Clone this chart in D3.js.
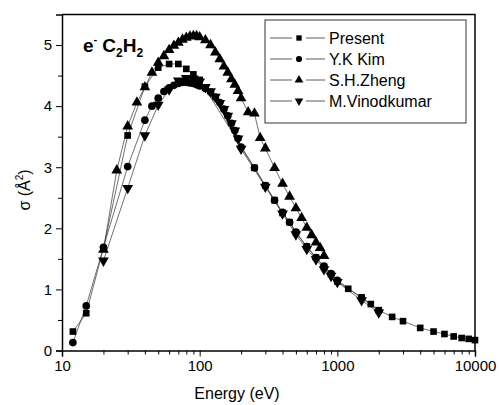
<!DOCTYPE html>
<html>
<head>
<meta charset="utf-8">
<title>e- C2H2 cross section</title>
<script src="https://cdn.jsdelivr.net/npm/d3@7"></script>
<style>
  body { margin: 0; background: #fff; }
  svg { font-family: "Liberation Sans", Arial, sans-serif; }
</style>
</head>
<body>
<div id="chart"></div>
<script>
// energies (eV) and cross sections (A^2)
const presentE = [12, 15, 20, 30, 40, 50, 60, 70, 80, 90, 100, 250, 300, 350, 400, 450, 500, 600, 700, 800, 900, 1000, 1200, 1500, 1750, 2000, 2500, 3000, 4000, 5000, 6000, 7000, 8000, 9000, 10000];
const presentS = [0.31, 0.61, 1.67, 3.52, 4.32, 4.63, 4.69, 4.69, 4.61, 4.52, 4.43, 2.99, 2.70, 2.46, 2.25, 2.10, 1.93, 1.70, 1.52, 1.37, 1.25, 1.13, 1.01, 0.87, 0.76, 0.66, 0.55, 0.48, 0.37, 0.31, 0.27, 0.23, 0.205, 0.19, 0.17];

const kimE = [12, 15, 20, 30, 40, 45, 50, 55, 60, 65, 70, 75, 80, 85, 90, 95, 100, 110, 120, 130, 140, 150, 160, 170, 180, 190, 200, 250, 300, 350, 400, 450, 500, 600, 700, 800, 900, 1000, 1500, 2000];
const kimS = [0.13, 0.73, 1.69, 3.01, 3.77, 4.00, 4.13, 4.24, 4.30, 4.34, 4.37, 4.39, 4.39, 4.38, 4.37, 4.35, 4.33, 4.29, 4.23, 4.15, 4.06, 3.95, 3.84, 3.72, 3.60, 3.47, 3.33, 2.99, 2.70, 2.46, 2.26, 2.10, 1.94, 1.70, 1.52, 1.38, 1.26, 1.15, 0.86, 0.65];

const zhengE = [20, 25, 30, 35, 40, 45, 50, 55, 60, 65, 70, 75, 80, 85, 90, 95, 100, 110, 120, 130, 140, 150, 160, 170, 180, 190, 200, 225, 250, 275, 300, 350, 400, 450, 500, 550, 600, 650, 700, 750, 800];
const zhengS = [1.65, 2.95, 3.67, 4.06, 4.31, 4.55, 4.71, 4.82, 4.92, 4.99, 5.04, 5.09, 5.12, 5.14, 5.15, 5.15, 5.13, 5.08, 5.00, 4.88, 4.77, 4.65, 4.55, 4.44, 4.35, 4.25, 4.13, 3.90, 3.88, 3.48, 3.31, 2.99, 2.73, 2.52, 2.33, 2.17, 2.01, 1.89, 1.77, 1.68, 1.55];

const vinodE = [20, 30, 40, 50, 60, 70, 80, 90, 100, 110, 120, 130, 140, 150, 160, 170, 180, 190, 200, 300, 400, 500, 600, 700, 800, 900, 1000, 1500, 2000];
const vinodS = [1.47, 2.66, 3.52, 4.02, 4.27, 4.42, 4.46, 4.45, 4.40, 4.31, 4.24, 4.15, 4.05, 3.95, 3.84, 3.72, 3.60, 3.47, 3.30, 2.68, 2.24, 1.90, 1.66, 1.49, 1.33, 1.22, 1.12, 0.82, 0.62];

const seriesNames = ["Present", "Y.K Kim", "S.H.Zheng", "M.Vinodkumar"];
const xTicks = [10, 100, 1000, 10000];
const yTicks = [0, 1, 2, 3, 4, 5];

const W = 499, H = 405;
const svg = d3.select("#chart").append("svg").attr("width", W).attr("height", H);

const x = d3.scaleLog().domain([10, 10000]).range([62, 475]);
const y = d3.scaleLinear().domain([0, 5.5]).range([350.5, 14.5]);

const series = [
  { name: seriesNames[0], E: presentE, S: presentS, sym: d3.symbolSquare, size: 44, rot: 0 },
  { name: seriesNames[1], E: kimE, S: kimS, sym: d3.symbolCircle, size: 46, rot: 0 },
  { name: seriesNames[2], E: zhengE, S: zhengS, sym: d3.symbolTriangle, size: 50, rot: 0 },
  { name: seriesNames[3], E: vinodE, S: vinodS, sym: d3.symbolTriangle, size: 50, rot: 180 }
];

// lines
const line = d3.line().x(d => x(d[0])).y(d => y(d[1]));
series.forEach(s => {
  const pts = s.E.map((e, i) => [e, s.S[i]]);
  svg.append("path")
    .datum(pts)
    .attr("fill", "none")
    .attr("stroke", "#333")
    .attr("stroke-width", 0.7)
    .attr("d", line);
});

// markers
series.forEach(s => {
  const pts = s.E.map((e, i) => [e, s.S[i]]);
  svg.append("g").selectAll("path")
    .data(pts)
    .join("path")
    .attr("transform", d => `translate(${x(d[0])},${y(d[1])}) rotate(${s.rot})`)
    .attr("d", d3.symbol().type(s.sym).size(s.size))
    .attr("fill", "#000");
});

// axes
const minorX = [];
[10, 100, 1000].forEach(dec => { for (let k = 2; k <= 9; k++) minorX.push(dec * k); });
const minorY = d3.range(0.5, 5.5, 1);

svg.append("g")
  .attr("transform", "translate(0,350.5)")
  .call(d3.axisBottom(x).tickValues(minorX).tickSize(4).tickFormat(""))
  .call(g => g.select(".domain").remove());
svg.append("g")
  .attr("transform", "translate(0,350.5)")
  .call(d3.axisBottom(x).tickValues(xTicks).tickSize(6).tickPadding(4).tickFormat(d3.format("d")))
  .call(g => g.select(".domain").attr("stroke-width", 1.5))
  .call(g => g.selectAll("text").attr("font-size", 15).attr("fill", "#000").attr("font-family", "Liberation Sans, Arial, sans-serif"));

svg.append("g")
  .attr("transform", "translate(62,0)")
  .call(d3.axisLeft(y).tickValues(minorY).tickSize(4).tickFormat(""))
  .call(g => g.select(".domain").remove());
svg.append("g")
  .attr("transform", "translate(62,0)")
  .call(d3.axisLeft(y).tickValues(yTicks).tickSize(6).tickPadding(4).tickFormat(d3.format("d")))
  .call(g => g.select(".domain").attr("stroke-width", 1.5))
  .call(g => g.selectAll("text").attr("font-size", 15).attr("fill", "#000").attr("font-family", "Liberation Sans, Arial, sans-serif"));

// top and right frame
svg.append("path")
  .attr("d", `M62,14.5H475V350.5`)
  .attr("fill", "none").attr("stroke", "#000").attr("stroke-width", 1.5);

// axis titles
svg.append("text")
  .attr("x", 237).attr("y", 399)
  .attr("text-anchor", "middle").attr("font-size", 16)
  .text("Energy (eV)");

const yl = svg.append("text")
  .attr("transform", "translate(30,190) rotate(-90)")
  .attr("text-anchor", "middle").attr("font-size", 16);
yl.append("tspan").text("σ (Å");
yl.append("tspan").attr("font-size", 10).attr("dy", -7).text("2");
yl.append("tspan").attr("dy", 7).text(")");

// annotation
const ann = svg.append("text").attr("x", 83).attr("y", 52).attr("font-size", 19).attr("font-weight", "bold");
ann.append("tspan").text("e");
ann.append("tspan").attr("font-size", 11).attr("dy", -9).text("-");
ann.append("tspan").attr("dy", 9).attr("dx", 5).text("C");
ann.append("tspan").attr("font-size", 12).attr("dy", 5).text("2");
ann.append("tspan").attr("dy", -5).text("H");
ann.append("tspan").attr("font-size", 12).attr("dy", 5).text("2");

// legend
const lg = svg.append("g");
lg.append("rect")
  .attr("x", 265).attr("y", 20).attr("width", 201).attr("height", 103)
  .attr("fill", "#fff").attr("stroke", "#333").attr("stroke-width", 1);
series.forEach((s, i) => {
  const yy = 38 + i * 21;
  lg.append("line").attr("x1", 270).attr("x2", 325).attr("y1", yy).attr("y2", yy)
    .attr("stroke", "#333").attr("stroke-width", 0.8);
  lg.append("rect").attr("x", 292).attr("y", yy - 5).attr("width", 14).attr("height", 10).attr("fill", "#fff");
  lg.append("path")
    .attr("transform", `translate(299,${yy}) rotate(${s.rot})`)
    .attr("d", d3.symbol().type(s.sym).size(s.size * 0.65))
    .attr("fill", "#000");
  lg.append("text").attr("x", 329).attr("y", yy + 6).attr("font-size", 16).text(s.name);
});
</script>
</body>
</html>
